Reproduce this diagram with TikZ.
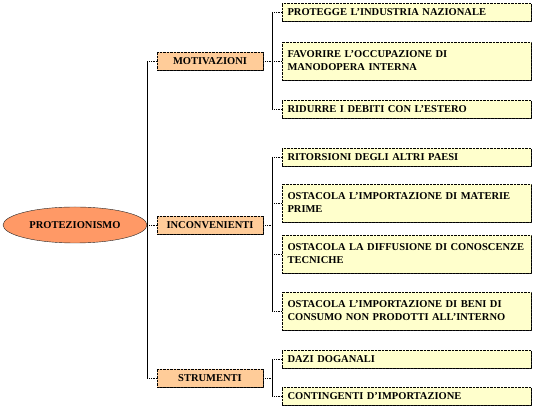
\documentclass[tikz,border=0pt]{standalone}
\usepackage{fontspec}
\setmainfont{Liberation Serif}
\usetikzlibrary{shapes.geometric, shadows, positioning}
\definecolor{salmon1}{RGB}{255,153,102}
\definecolor{peach1}{RGB}{255,204,153}
\definecolor{cream1}{RGB}{255,255,204}

\begin{document}
\begin{tikzpicture}[x=1pt, y=1pt,
  font=\fontsize{10.5}{13}\selectfont\bfseries,
  root/.style={ellipse, draw=black!85, fill=salmon1, minimum width=144pt, minimum height=36pt, inner sep=0pt},
  branch/.style={draw, densely dotted, fill=peach1, minimum width=106pt, minimum height=18pt, inner sep=0pt,
    drop shadow={shadow xshift=0.8pt, shadow yshift=-0.8pt, opacity=1, fill=black!85}},
  leaf/.style={draw, densely dotted, fill=cream1, text width=238pt, align=left, inner xsep=5.5pt, inner ysep=0pt,
    minimum height=18pt, drop shadow={shadow xshift=0.8pt, shadow yshift=-0.8pt, opacity=1, fill=black!85}},
  tall/.style={leaf, minimum height=38pt},
  trunk/.style={line width=0.8pt},
  stub/.style={densely dotted, line width=0.8pt}]

  \useasboundingbox (0,0) rectangle (535,411);

  \node[root] (prot) at (75,186) {PROTEZIONISMO};

  \node[branch] (mot) at (210,350) {MOTIVAZIONI};
  \node[branch] (inc) at (210,186) {INCONVENIENTI};
  \node[branch] (str) at (210,33) {STRUMENTI};

  \node[leaf] (m1) at (406.5,399) {PROTEGGE L'INDUSTRIA NAZIONALE};
  \node[tall] (m2) at (406.5,350) {FAVORIRE L'OCCUPAZIONE DI\\MANODOPERA INTERNA};
  \node[leaf] (m3) at (406.5,302) {RIDURRE I DEBITI CON L'ESTERO};

  \node[leaf] (i1) at (406.5,254) {RITORSIONI DEGLI ALTRI PAESI};
  \node[tall] (i2) at (406.5,208) {OSTACOLA L'IMPORTAZIONE DI MATERIE\\PRIME};
  \node[tall] (i3) at (406.5,157) {OSTACOLA LA DIFFUSIONE DI CONOSCENZE\\TECNICHE};
  \node[tall] (i4) at (406.5,100) {OSTACOLA L'IMPORTAZIONE DI BENI DI\\CONSUMO NON PRODOTTI ALL'INTERNO};

  \node[leaf] (s1) at (406.5,52) {DAZI DOGANALI};
  \node[leaf] (s2) at (406.5,15) {CONTINGENTI D'IMPORTAZIONE};

  % root to branches
  \draw[trunk] (prot.east |- mot.west) -- (prot.east |- str.west);
  \foreach \b in {mot,inc,str}
    \draw[stub] (prot.east |- \b.west) -- (\b.west);

  % branches to leaves
  \foreach \b/\first/\last/\all in {mot/m1/m3/{m1,m2,m3}, inc/i1/i4/{i1,i2,i3,i4}, str/s1/s2/{s1,s2}} {
    \coordinate (\b j) at ([xshift=9pt]\b.east);
    \draw[stub] (\b.east) -- (\b j);
    \draw[trunk] (\b j |- \first.west) -- (\b j |- \last.west);
    \foreach \c in \all
      \draw[stub] (\b j |- \c.west) -- (\c.west);
  }
\end{tikzpicture}
\end{document}
